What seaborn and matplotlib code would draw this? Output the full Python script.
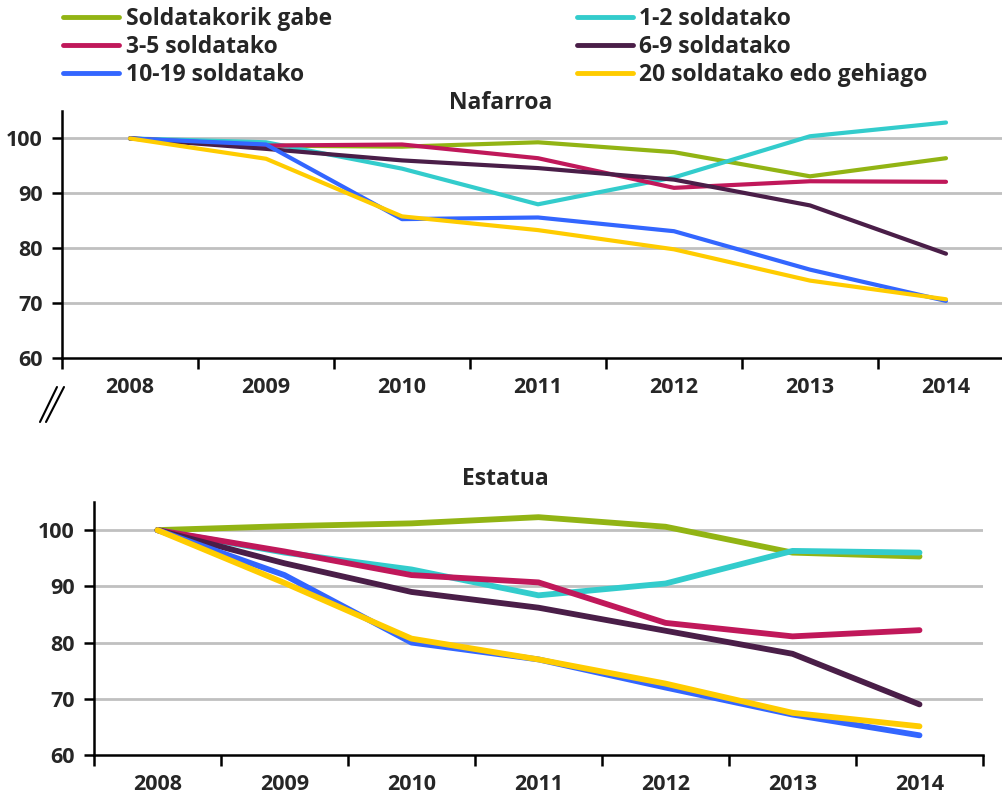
import matplotlib
matplotlib.use("Agg")
import matplotlib.pyplot as plt
from matplotlib.lines import Line2D
import seaborn as sns
import pandas as pd

years = ["2008", "2009", "2010", "2011", "2012", "2013", "2014"]
series = ["Soldatakorik gabe", "1-2 soldatako", "3-5 soldatako",
          "6-9 soldatako", "10-19 soldatako", "20 soldatako edo gehiago"]
colors = ["#92B414", "#33CCCC", "#C0185A", "#4A1E48", "#3366FF", "#FFCC00"]

# Nafarroa
naf_gabe = [100, 98.7, 98.5, 99.3, 97.5, 93.1, 96.4]
naf_1_2 = [100, 99.3, 94.5, 88.0, 92.9, 100.4, 102.9]
naf_3_5 = [100, 98.7, 98.9, 96.4, 91.0, 92.2, 92.1]
naf_6_9 = [100, 98.1, 96.0, 94.6, 92.5, 87.8, 79.0]
naf_10_19 = [100, 98.9, 85.3, 85.6, 83.1, 76.1, 70.4]
naf_20 = [100, 96.3, 85.8, 83.3, 79.8, 74.1, 70.7]

# Estatua
est_gabe = [100, 100.7, 101.2, 102.3, 100.6, 96.0, 95.3]
est_1_2 = [100, 96.0, 93.0, 88.4, 90.5, 96.3, 96.0]
est_3_5 = [100, 96.2, 92.0, 90.7, 83.5, 81.1, 82.2]
est_6_9 = [100, 94.1, 89.0, 86.2, 82.1, 78.0, 69.0]
est_10_19 = [100, 92.0, 80.0, 77.0, 72.0, 67.2, 63.5]
est_20 = [100, 90.6, 80.7, 77.0, 72.7, 67.5, 65.1]

yticks = [60, 70, 80, 90, 100]


def long_df(vals):
    rows = []
    for name, v in zip(series, vals):
        for i, val in enumerate(v):
            rows.append({"x": i, "y": val, "s": name})
    return pd.DataFrame(rows)


df_naf = long_df([naf_gabe, naf_1_2, naf_3_5, naf_6_9, naf_10_19, naf_20])
df_est = long_df([est_gabe, est_1_2, est_3_5, est_6_9, est_10_19, est_20])

sns.set_theme(style="white")
FONT = ["Open Sans", "DejaVu Sans"]
plt.rcParams["font.family"] = FONT
plt.rcParams["font.weight"] = "bold"

W, H = 1003, 795
fig = plt.figure(figsize=(W / 100, H / 100), dpi=100)


def px_axes(left, right, top, bottom):
    return fig.add_axes([left / W, 1 - bottom / H, (right - left) / W, (bottom - top) / H])


ax1 = px_axes(62, 1014, 111, 358)
ax2 = px_axes(94, 983, 502, 755)

palette = dict(zip(series, colors))

for ax, df, lw in [(ax1, df_naf, 3.0), (ax2, df_est, 4.2)]:
    for y in [70, 80, 90, 100]:
        ax.axhline(y, color="#C0C0C0", lw=2.0, zorder=0)
    sns.lineplot(data=df, x="x", y="y", hue="s", palette=palette, ax=ax,
                 lw=lw, legend=False, zorder=3)
    ax.set_xlim(-0.5, 6.5)
    ax.set_ylim(60, 105)
    ax.set_xlabel("")
    ax.set_ylabel("")
    ax.set_xticks([i - 0.5 for i in range(8)])
    ax.set_xticklabels([])
    ax.set_xticks(range(7), minor=True)
    ax.set_xticklabels(years, minor=True, fontsize=15.5, fontweight="bold", family=FONT)
    ax.tick_params(axis="x", which="major", direction="out", length=8, width=1.8,
                   color="black", bottom=True)
    ax.tick_params(axis="x", which="minor", length=0, pad=14)
    ax.set_yticks(yticks)
    ax.set_yticklabels([str(t) for t in yticks], fontsize=15.5, fontweight="bold", family=FONT)
    ax.tick_params(axis="y", direction="out", length=7, width=1.8, color="black",
                   left=True, pad=7)
    for side in ["top", "right"]:
        ax.spines[side].set_visible(False)
    for side in ["left", "bottom"]:
        ax.spines[side].set_color("black")
        ax.spines[side].set_linewidth(1.8)
    ax.grid(False)
    ax.set_facecolor("none")

fig.text(501 / W, 1 - 103 / H, "Nafarroa", ha="center", va="center",
         fontsize=16.5, fontweight="bold", family=FONT)
fig.text(505 / W, 1 - 479 / H, "Estatua", ha="center", va="center",
         fontsize=16.5, fontweight="bold", family=FONT)

# axis break mark
fig.add_artist(Line2D([40 / W, 57 / W], [1 - 422 / H, 1 - 387 / H], color="black", lw=1.5))
fig.add_artist(Line2D([46 / W, 64 / W], [1 - 422 / H, 1 - 387 / H], color="black", lw=1.5))

# legend
order = [0, 2, 4, 1, 3, 5]
handles = [Line2D([], [], color=colors[i], lw=3.5) for i in order]
labels = [series[i] for i in order]
fig.legend(handles, labels, ncol=2, loc="upper left",
           bbox_to_anchor=(63 / W, 1 - 7 / H), frameon=False,
           handlelength=2.45, handletextpad=0.28,
           columnspacing=10.7, labelspacing=0.18, borderaxespad=0, borderpad=0,
           prop={"weight": "bold", "size": 16.5, "family": FONT})

fig.savefig("out.png", dpi=100)
